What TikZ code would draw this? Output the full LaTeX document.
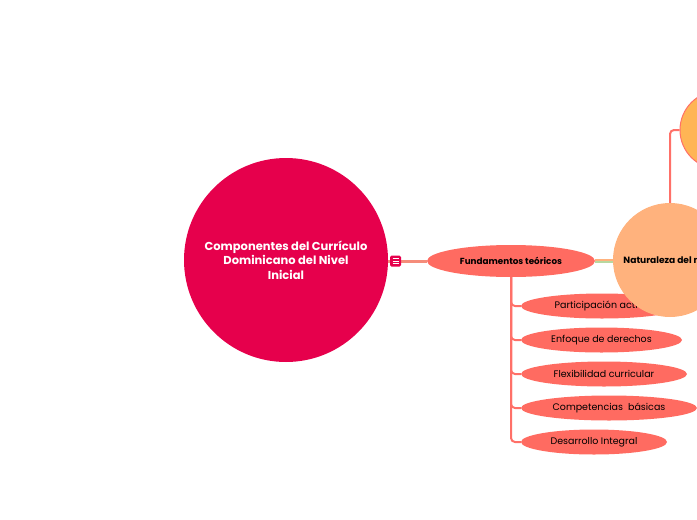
\documentclass[tikz,border=0pt]{standalone}
\usepackage{fontspec}
\setmainfont{Poppins}
\usetikzlibrary{shapes.geometric, positioning, calc}
\definecolor{rootred}{RGB}{230, 0, 76}
\definecolor{topiccoral}{RGB}{255, 107, 97}
\definecolor{linkcoral}{RGB}{255, 112, 104}
\definecolor{natpeach}{RGB}{255, 178, 125}
\definecolor{deeporange}{RGB}{255, 181, 85}
\definecolor{linkgreen}{RGB}{184, 216, 160}
\definecolor{linksalmon}{RGB}{245, 140, 122}

\begin{document}
\begin{tikzpicture}[x=1pt, y=-1pt,
  root/.style={circle, fill=rootred, minimum size=204pt, inner sep=0pt, text=white,
               align=center, font=\bfseries\fontsize{11.5}{14.5}\selectfont},
  topic/.style={ellipse, fill=topiccoral, minimum width=168pt, minimum height=32pt,
                inner sep=0pt, font=\bfseries\fontsize{8.8}{10}\selectfont},
  sub/.style={ellipse, fill=topiccoral, minimum height=25pt, inner sep=0pt,
              font=\fontsize{9.5}{11}\selectfont},
  nat/.style={circle, fill=natpeach, minimum size=114pt, inner sep=0pt,
              font=\bfseries\fontsize{9.1}{10}\selectfont},
  branch/.style={draw=linkcoral, line width=2pt, rounded corners=4pt}
]
  \useasboundingbox (0,0) rectangle (697,520);
  \clip (0,0) rectangle (697,520);

  \node[root] (root) at (286,260) {Componentes del Currículo\\Dominicano del Nivel\\Inicial};
  \node[topic] (fund) at (511,261) {Fundamentos teóricos};

  % links from the root
  \draw[linksalmon, line width=3pt] (root.east |- fund.west) -- (fund.west);
  \node[fill=rootred, rounded corners=1.5pt, minimum size=11pt, inner sep=0pt] (fold) at (395.5,261) {};
  \foreach \dy in {-2.5,0,2.5}
    \draw[white, line width=0.8pt] ($(fold.center)+(-3,\dy)$) -- ($(fold.center)+(3,\dy)$);

  \node[sub, minimum width=162pt] (part) at (602,306) {Participación activa};
  \node[sub, minimum width=161pt] (enf) at (601.5,340) {Enfoque de derechos};
  \node[sub, minimum width=166pt] (flex) at (604,374) {Flexibilidad curricular};
  \node[sub, minimum width=176pt] (comp) at (609,408) {Competencias\ \ básicas};
  \node[sub, minimum width=146pt] (desa) at (594,442) {Desarrollo Integral};

  \foreach \c in {part, enf, flex, comp, desa}
    \draw[branch] (fund.south) |- (\c.west);

  \node[circle, draw=linkcoral, line width=1pt, fill=deeporange, minimum size=78pt] (top) at (719,130) {};
  \node[nat] (natur) at (670,260) {Naturaleza del nivel};

  \draw[linkgreen, line width=2pt] ([yshift=-1pt]fund.east) -- ([yshift=-1pt]fund.east -| natur.west);
  \draw[natpeach, line width=2pt] ([yshift=1pt]fund.east) -- ([yshift=1pt]fund.east -| natur.west);
  \draw[branch] (natur.north) |- (top.west);
\end{tikzpicture}
\end{document}
